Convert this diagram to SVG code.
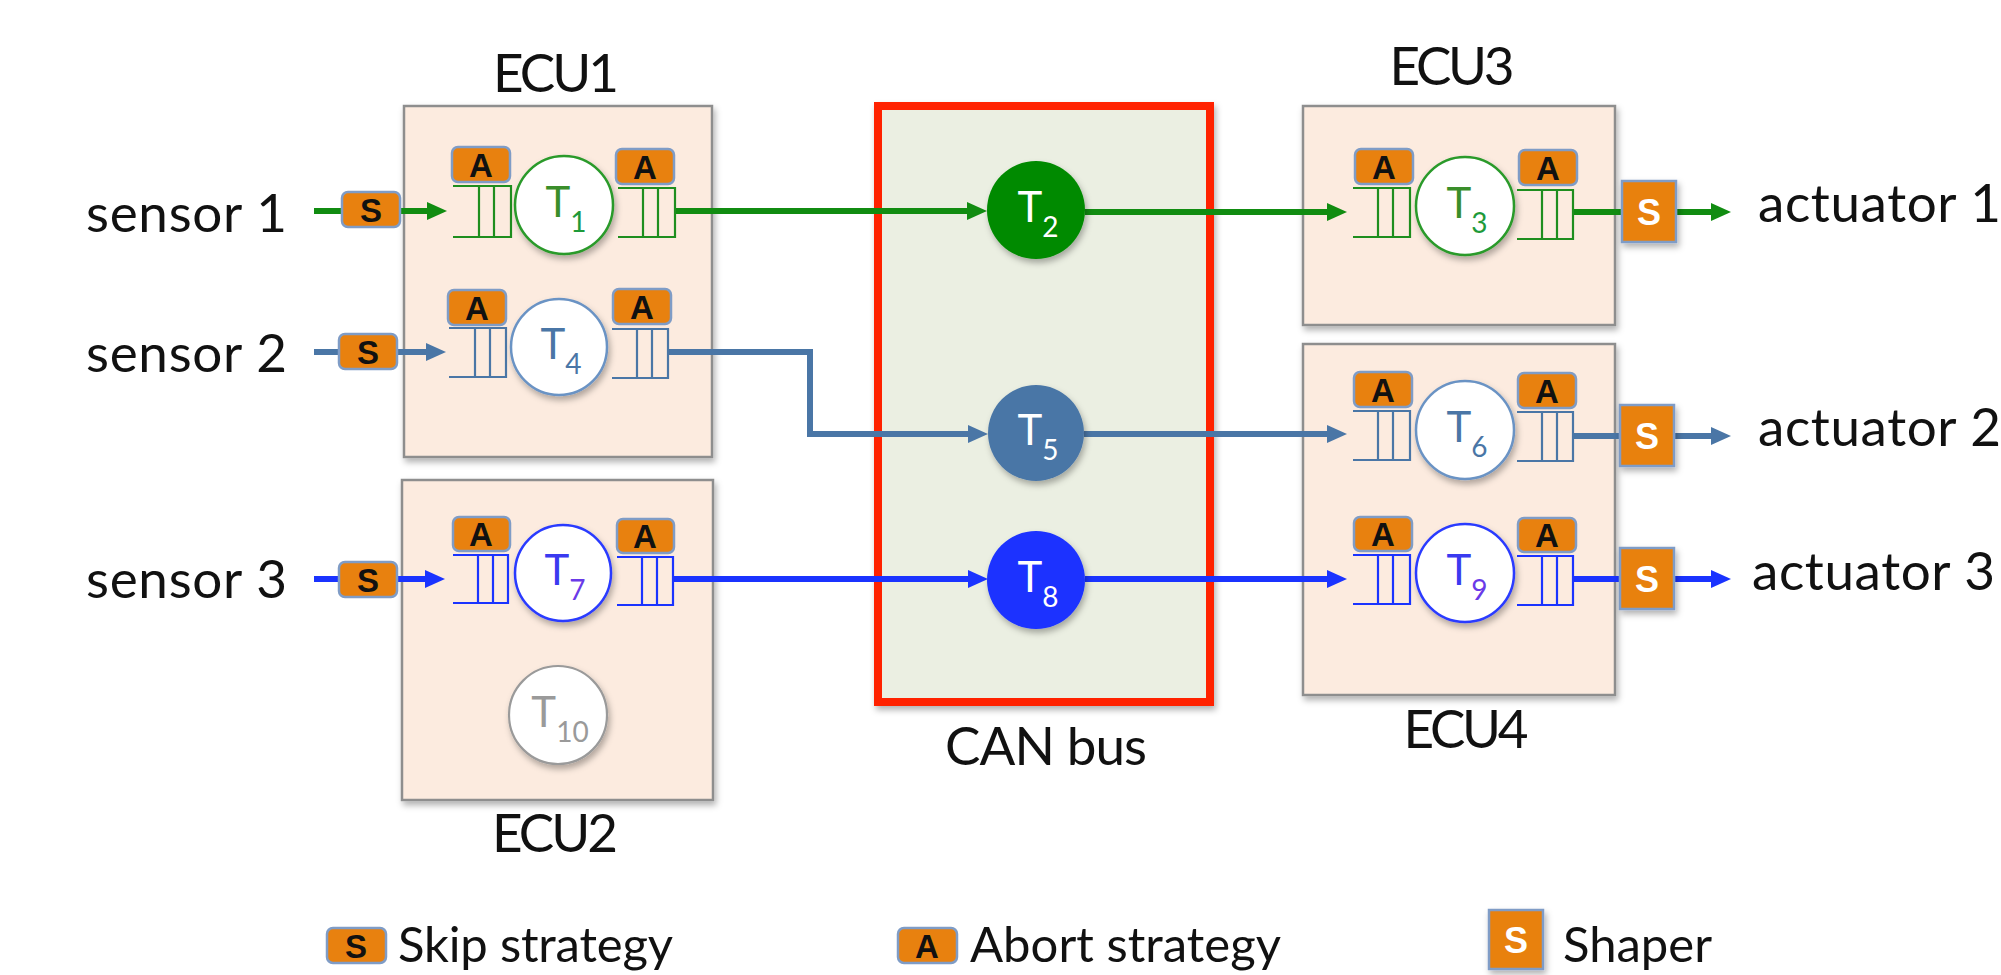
<svg xmlns="http://www.w3.org/2000/svg" width="2001" height="975" viewBox="0 0 2001 975">
<style>
.lbl{font-family:Lato,"Liberation Sans",sans-serif;font-size:53px;fill:#111}
.leg{font-family:Lato,"Liberation Sans",sans-serif;font-size:49px;fill:#111}
.ecu{fill:#FCEBDF;stroke:#8E8E8E;stroke-width:2.5}
.bus{fill:#EBEFE2;stroke:#FF2200;stroke-width:8}
.badge{fill:#E8810F;stroke:#7F9CC6;stroke-width:2.5}
.bt{font-family:"Liberation Sans",Arial,sans-serif;font-weight:bold;font-size:33px;fill:#111;text-anchor:middle}
.st{font-family:"Liberation Sans",Arial,sans-serif;font-weight:bold;font-size:36px;fill:#fff;text-anchor:middle}
.q{fill:none;stroke-width:2.2}
.tl{font-family:Lato,"Liberation Sans",sans-serif;font-size:42px;text-anchor:middle}
.sub{font-size:28px}
.g{stroke:#1E8E1E}
.sb{stroke:#4A76A6}
.b{stroke:#1A33FF}
.conn{fill:none;stroke-width:6}
</style>
<defs>
<filter id="sh" x="-15%" y="-15%" width="135%" height="135%"><feDropShadow dx="2" dy="4" stdDeviation="3" flood-color="#000" flood-opacity="0.3"/></filter>
<marker id="ag" markerUnits="userSpaceOnUse" markerWidth="20" markerHeight="18" refX="6" refY="9" orient="auto"><path d="M0,0 L20,9 L0,18 z" fill="#118C11"/></marker>
<marker id="asb" markerUnits="userSpaceOnUse" markerWidth="20" markerHeight="18" refX="6" refY="9" orient="auto"><path d="M0,0 L20,9 L0,18 z" fill="#4A76A6"/></marker>
<marker id="ab" markerUnits="userSpaceOnUse" markerWidth="20" markerHeight="18" refX="6" refY="9" orient="auto"><path d="M0,0 L20,9 L0,18 z" fill="#1A33FF"/></marker>
</defs>
<rect width="2001" height="975" fill="#fff"/>

<!-- containers -->
<g id="ecu1"><rect class="ecu" x="404" y="106" width="308" height="351" filter="url(#sh)"/><text class="lbl" x="556" y="92" text-anchor="middle" textLength="126">ECU1</text></g>
<g id="ecu2"><rect class="ecu" x="402" y="480" width="311" height="320" filter="url(#sh)"/><text class="lbl" x="555" y="852" text-anchor="middle" textLength="126">ECU2</text></g>
<g id="canbus"><rect class="bus" x="878" y="106" width="332" height="596" filter="url(#sh)"/><text class="lbl" x="1046" y="765" text-anchor="middle" textLength="202">CAN bus</text></g>
<g id="ecu3"><rect class="ecu" x="1303" y="106" width="312" height="219" filter="url(#sh)"/><text class="lbl" x="1452" y="85" text-anchor="middle" textLength="125">ECU3</text></g>
<g id="ecu4"><rect class="ecu" x="1303" y="344" width="312" height="351" filter="url(#sh)"/><text class="lbl" x="1466" y="748" text-anchor="middle" textLength="125">ECU4</text></g>

<!-- connectors -->
<g id="connectors">
<line class="conn" x1="314" y1="211" x2="433" y2="211" stroke="#118C11" marker-end="url(#ag)"/>
<line class="conn" x1="675" y1="211" x2="973" y2="211" stroke="#118C11" marker-end="url(#ag)"/>
<line class="conn" x1="1085" y1="212" x2="1333" y2="212" stroke="#118C11" marker-end="url(#ag)"/>
<line class="conn" x1="1573" y1="212" x2="1717" y2="212" stroke="#118C11" marker-end="url(#ag)"/>

<line class="conn" x1="314" y1="352" x2="432" y2="352" stroke="#4A76A6" marker-end="url(#asb)"/>
<path class="conn" d="M668,352 H810 V434 H974" stroke="#4A76A6" marker-end="url(#asb)"/>
<line class="conn" x1="1084" y1="434" x2="1333" y2="434" stroke="#4A76A6" marker-end="url(#asb)"/>
<line class="conn" x1="1573" y1="436" x2="1717" y2="436" stroke="#4A76A6" marker-end="url(#asb)"/>

<line class="conn" x1="314" y1="579" x2="431" y2="579" stroke="#1A33FF" marker-end="url(#ab)"/>
<line class="conn" x1="673" y1="579" x2="974" y2="579" stroke="#1A33FF" marker-end="url(#ab)"/>
<line class="conn" x1="1085" y1="579" x2="1333" y2="579" stroke="#1A33FF" marker-end="url(#ab)"/>
<line class="conn" x1="1573" y1="579" x2="1717" y2="579" stroke="#1A33FF" marker-end="url(#ab)"/>
</g>

<!-- sensors -->
<g id="sensor1"><text class="lbl" x="86" y="232" textLength="201">sensor 1</text><rect class="badge" x="342" y="192" width="58" height="35" rx="6"/><text class="bt" x="371" y="222">S</text></g>
<g id="sensor2"><text class="lbl" x="86" y="372" textLength="201">sensor 2</text><rect class="badge" x="339" y="334" width="58" height="35" rx="6"/><text class="bt" x="368" y="364">S</text></g>
<g id="sensor3"><text class="lbl" x="86" y="598" textLength="201">sensor 3</text><rect class="badge" x="339" y="562" width="58" height="35" rx="6"/><text class="bt" x="368" y="592">S</text></g>

<!-- T1 -->
<g id="T1">
<rect class="badge" x="452" y="147" width="58" height="35" rx="6"/><text class="bt" x="481" y="177">A</text>
<path class="q g" d="M453,186 H511 V237 H453 M479,186 V237 M494,186 V237"/>
<circle cx="564" cy="205" r="49" fill="#fff" stroke="#2A9A2A" stroke-width="2.5" filter="url(#sh)"/>
<text class="tl" x="566" y="217" fill="#3A8E2A">T<tspan class="sub" dy="15" fill="#1E9A3A">1</tspan></text>
<rect class="badge" x="616" y="149" width="58" height="35" rx="6"/><text class="bt" x="645" y="179">A</text>
<path class="q g" d="M618,188 H675 V237 H618 M643,188 V237 M658,188 V237"/>
</g>
<!-- T4 -->
<g id="T4">
<rect class="badge" x="448" y="290" width="58" height="35" rx="6"/><text class="bt" x="477" y="320">A</text>
<path class="q sb" d="M449,328 H506 V377 H449 M475,328 V377 M490,328 V377"/>
<circle cx="559" cy="347" r="48" fill="#fff" stroke="#6B93C4" stroke-width="2.5" filter="url(#sh)"/>
<text class="tl" x="561" y="359" fill="#4A76A6">T<tspan class="sub" dy="15">4</tspan></text>
<rect class="badge" x="613" y="289" width="58" height="35" rx="6"/><text class="bt" x="642" y="319">A</text>
<path class="q sb" d="M612,329 H668 V378 H612 M637,329 V378 M652,329 V378"/>
</g>
<!-- T7 -->
<g id="T7">
<rect class="badge" x="453" y="517" width="57" height="34" rx="6"/><text class="bt" x="481" y="546">A</text>
<path class="q b" d="M453,555 H508 V603 H453 M478,555 V603 M493,555 V603"/>
<circle cx="563" cy="573" r="48" fill="#fff" stroke="#2A3BFF" stroke-width="2.5" filter="url(#sh)"/>
<text class="tl" x="565" y="585" fill="#3A3AF0">T<tspan class="sub" dy="15" fill="#6A3AE8">7</tspan></text>
<rect class="badge" x="617" y="519" width="57" height="34" rx="6"/><text class="bt" x="645" y="548">A</text>
<path class="q b" d="M617,557 H673 V605 H617 M642,557 V605 M657,557 V605"/>
</g>
<!-- T10 -->
<g id="T10">
<circle cx="558" cy="715" r="49" fill="#fff" stroke="#9A9A9A" stroke-width="2.2" filter="url(#sh)"/>
<text class="tl" x="560" y="727" fill="#9A9A9A">T<tspan class="sub" dy="15">10</tspan></text>
</g>

<!-- bus tasks -->
<g id="T2"><circle cx="1036" cy="210" r="49" fill="#058A05" filter="url(#sh)"/><text class="tl" x="1038" y="222" fill="#fff">T<tspan class="sub" dy="15">2</tspan></text></g>
<g id="T5"><circle cx="1036" cy="433" r="48" fill="#4A76A6" filter="url(#sh)"/><text class="tl" x="1038" y="445" fill="#fff">T<tspan class="sub" dy="15">5</tspan></text></g>
<g id="T8"><circle cx="1036" cy="580" r="49" fill="#1A33FF" filter="url(#sh)"/><text class="tl" x="1038" y="592" fill="#fff">T<tspan class="sub" dy="15">8</tspan></text></g>

<!-- T3 -->
<g id="T3">
<rect class="badge" x="1355" y="149" width="58" height="35" rx="6"/><text class="bt" x="1384" y="179">A</text>
<path class="q g" d="M1353,188 H1410 V237 H1353 M1378,188 V237 M1393,188 V237"/>
<circle cx="1465" cy="206" r="49" fill="#fff" stroke="#2A9A2A" stroke-width="2.5" filter="url(#sh)"/>
<text class="tl" x="1467" y="218" fill="#3A8E2A">T<tspan class="sub" dy="15" fill="#1E9A3A">3</tspan></text>
<rect class="badge" x="1519" y="150" width="58" height="35" rx="6"/><text class="bt" x="1548" y="180">A</text>
<path class="q g" d="M1517,190 H1573 V239 H1517 M1542,190 V239 M1557,190 V239"/>
</g>
<!-- T6 -->
<g id="T6">
<rect class="badge" x="1354" y="372" width="58" height="35" rx="6"/><text class="bt" x="1383" y="402">A</text>
<path class="q sb" d="M1353,411 H1410 V460 H1353 M1378,411 V460 M1393,411 V460"/>
<circle cx="1465" cy="430" r="49" fill="#fff" stroke="#6B93C4" stroke-width="2.5" filter="url(#sh)"/>
<text class="tl" x="1467" y="442" fill="#4A76A6">T<tspan class="sub" dy="15">6</tspan></text>
<rect class="badge" x="1518" y="373" width="58" height="35" rx="6"/><text class="bt" x="1547" y="403">A</text>
<path class="q sb" d="M1517,412 H1573 V461 H1517 M1542,412 V461 M1557,412 V461"/>
</g>
<!-- T9 -->
<g id="T9">
<rect class="badge" x="1354" y="517" width="58" height="34" rx="6"/><text class="bt" x="1383" y="546">A</text>
<path class="q b" d="M1353,555 H1410 V604 H1353 M1378,555 V604 M1393,555 V604"/>
<circle cx="1465" cy="573" r="49" fill="#fff" stroke="#2A3BFF" stroke-width="2.5" filter="url(#sh)"/>
<text class="tl" x="1467" y="585" fill="#3A3AF0">T<tspan class="sub" dy="15" fill="#6A3AE8">9</tspan></text>
<rect class="badge" x="1518" y="518" width="58" height="34" rx="6"/><text class="bt" x="1547" y="547">A</text>
<path class="q b" d="M1517,556 H1573 V605 H1517 M1542,556 V605 M1557,556 V605"/>
</g>

<!-- shapers & actuators -->
<g id="actuator1"><rect class="badge" x="1622" y="181" width="54" height="61" filter="url(#sh)"/><text class="st" x="1649" y="225">S</text><text class="lbl" x="1758" y="222" textLength="243">actuator 1</text></g>
<g id="actuator2"><rect class="badge" x="1620" y="405" width="54" height="61" filter="url(#sh)"/><text class="st" x="1647" y="449">S</text><text class="lbl" x="1758" y="446" textLength="243">actuator 2</text></g>
<g id="actuator3"><rect class="badge" x="1620" y="548" width="54" height="61" filter="url(#sh)"/><text class="st" x="1647" y="592">S</text><text class="lbl" x="1752" y="590" textLength="243">actuator 3</text></g>

<!-- legend -->
<g id="legend">
<rect class="badge" x="327" y="928" width="59" height="35" rx="6"/><text class="bt" x="356" y="958">S</text>
<text class="leg" x="398" y="962" textLength="275">Skip strategy</text>
<rect class="badge" x="898" y="928" width="59" height="35" rx="6"/><text class="bt" x="927" y="958">A</text>
<text class="leg" x="970" y="962" textLength="311">Abort strategy</text>
<rect class="badge" x="1489" y="910" width="54" height="59" filter="url(#sh)"/><text class="st" x="1516" y="953">S</text>
<text class="leg" x="1563" y="962" textLength="149">Shaper</text>
</g>
</svg>
